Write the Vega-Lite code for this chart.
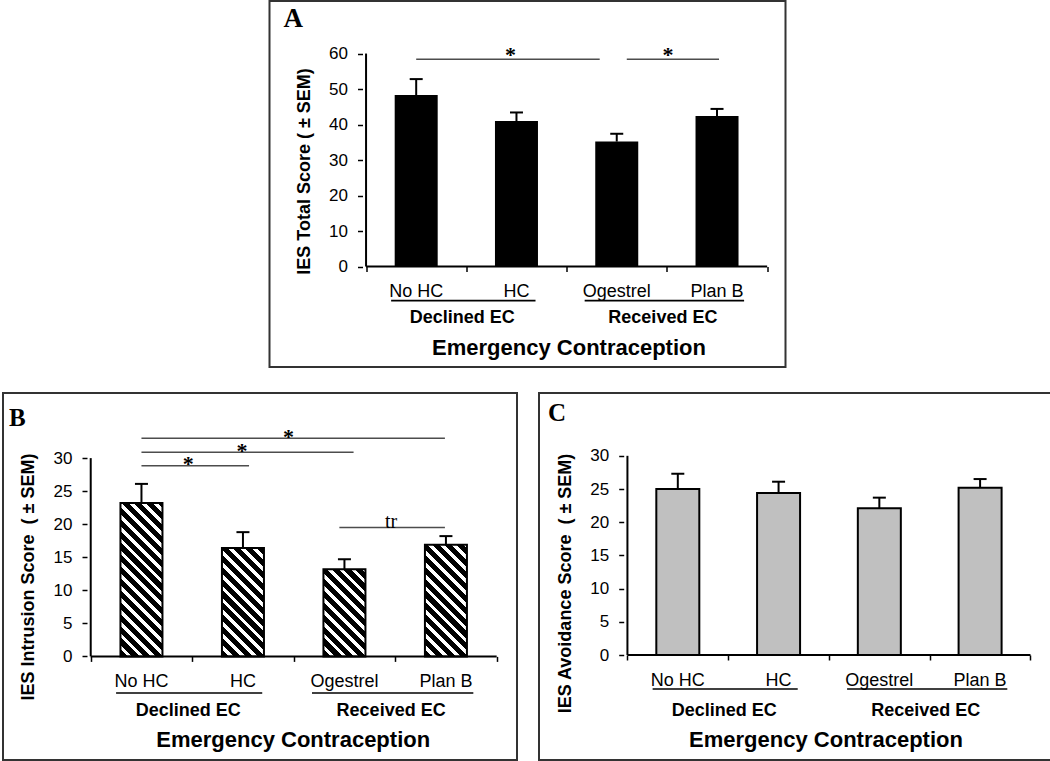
{
  "$schema": "https://vega.github.io/schema/vega-lite/v6.json",
  "background": "white",
  "padding": {"left": 2, "top": 0, "right": 0, "bottom": 0},
  "datasets": {
    "total": [
      {"cat": "No HC", "idx": 0, "group": "Declined EC", "mean": 48.3, "upper": 52.8},
      {"cat": "HC", "idx": 1, "group": "Declined EC", "mean": 41.0, "upper": 43.4},
      {"cat": "Ogestrel", "idx": 2, "group": "Received EC", "mean": 35.2, "upper": 37.4},
      {"cat": "Plan B", "idx": 3, "group": "Received EC", "mean": 42.4, "upper": 44.4}
    ],
    "intrusion": [
      {"cat": "No HC", "idx": 0, "group": "Declined EC", "mean": 23.2, "upper": 26.1},
      {"cat": "HC", "idx": 1, "group": "Declined EC", "mean": 16.4, "upper": 18.8},
      {"cat": "Ogestrel", "idx": 2, "group": "Received EC", "mean": 13.2, "upper": 14.7},
      {"cat": "Plan B", "idx": 3, "group": "Received EC", "mean": 16.9, "upper": 18.2}
    ],
    "avoidance": [
      {"cat": "No HC", "idx": 0, "group": "Declined EC", "mean": 25.0, "upper": 27.3},
      {"cat": "HC", "idx": 1, "group": "Declined EC", "mean": 24.4, "upper": 26.1},
      {"cat": "Ogestrel", "idx": 2, "group": "Received EC", "mean": 22.1, "upper": 23.7},
      {"cat": "Plan B", "idx": 3, "group": "Received EC", "mean": 25.2, "upper": 26.5}
    ],
    "groups": [
      {"group": "Declined EC", "from": -0.25, "to": 1.19, "mid": 0.46},
      {"group": "Received EC", "from": 1.68, "to": 3.27, "mid": 2.46}
    ],
    "sigA": [
      {"from": 0, "to": 1.83, "level": 58.4, "mid": 0.94, "label": "*"},
      {"from": 2.1, "to": 3.02, "level": 58.4, "mid": 2.51, "label": "*"}
    ],
    "sigB": [
      {"from": 0, "to": 2.99, "level": 33.0, "mid": 1.45, "label": "*"},
      {"from": 0, "to": 2.09, "level": 30.9, "mid": 0.99, "label": "*"},
      {"from": 0, "to": 1.06, "level": 28.85, "mid": 0.46, "label": "*"},
      {"from": 1.95, "to": 2.99, "level": 19.5, "mid": 2.46, "label": "tr"}
    ]
  },
  "config": {
    "view": {"stroke": "#333333", "strokeWidth": 2},
    "font": "Liberation Sans",
    "axis": {"domain": false, "grid": false, "tickColor": "black", "tickWidth": 1.5, "tickSize": 5, "labelFont": "Liberation Sans", "labelFontSize": 17, "labelColor": "black", "labelPadding": 10, "titleFont": "Liberation Sans", "titleFontWeight": "bold", "titleColor": "black"},
    "axisX": {"labels": false, "titleFontSize": 22, "titleBaseline": "middle"},
    "axisY": {"titleFontSize": 18},
    "title": {"anchor": "start", "frame": "group", "font": "Liberation Serif", "fontWeight": "bold", "color": "black", "baseline": "alphabetic"}
  },
  "spacing": 24,
  "center": true,
  "vconcat": [
    {
      "width": 516,
      "height": 366,
      "title": {"text": "A", "fontSize": 27, "offset": -31.5, "dx": 14},
      "layer": [
        {
          "data": {"name": "total"},
          "mark": {"type": "bar", "color": "black", "size": 43},
          "encoding": {
            "x": {"field": "idx", "type": "quantitative", "scale": {"domain": [-1.413, 3.633], "nice": false, "zero": false},
                  "axis": {"values": [-0.5, 0.5, 1.5, 2.5, 3.5], "offset": -100.5, "title": "Emergency Contraception", "titleX": 299, "titleY": 81}},
            "y": {"field": "mean", "type": "quantitative", "scale": {"domain": [-28.3, 74.8], "nice": false, "zero": false},
                  "axis": {"values": [0, 10, 20, 30, 40, 50, 60], "offset": -93, "title": "IES Total Score ( ± SEM)", "titleY": 170, "titlePadding": 15}},
            "y2": {"datum": 0}
          }
        },
        {
          "data": {"name": "total"},
          "mark": {"type": "rule", "color": "black", "strokeWidth": 2},
          "encoding": {"x": {"field": "idx", "type": "quantitative"}, "y": {"field": "mean", "type": "quantitative"}, "y2": {"field": "upper"}}
        },
        {
          "data": {"name": "total"},
          "mark": {"type": "tick", "orient": "horizontal", "color": "black", "size": 13, "thickness": 2, "opacity": 1},
          "encoding": {"x": {"field": "idx", "type": "quantitative"}, "y": {"field": "upper", "type": "quantitative"}}
        },
        {
          "data": {"values": [{}]},
          "mark": {"type": "rule", "color": "black", "strokeWidth": 2},
          "encoding": {"x": {"datum": -0.5}, "y": {"datum": 0}, "y2": {"datum": 60}}
        },
        {
          "data": {"values": [{}]},
          "mark": {"type": "rule", "color": "black", "strokeWidth": 2},
          "encoding": {"x": {"datum": -0.5}, "x2": {"datum": 3.5}, "y": {"datum": 0}}
        },
        {
          "data": {"name": "total"},
          "mark": {"type": "text", "fontSize": 18, "baseline": "middle", "color": "black"},
          "encoding": {"x": {"field": "idx", "type": "quantitative"}, "y": {"datum": -7.3}, "text": {"field": "cat"}}
        },
        {
          "data": {"name": "groups"},
          "mark": {"type": "rule", "color": "black", "strokeWidth": 1.6},
          "encoding": {"x": {"field": "from", "type": "quantitative"}, "x2": {"field": "to"}, "y": {"datum": -9.6}}
        },
        {
          "data": {"name": "groups"},
          "mark": {"type": "text", "fontSize": 18, "fontWeight": "bold", "baseline": "middle", "color": "black"},
          "encoding": {"x": {"field": "mid", "type": "quantitative"}, "y": {"datum": -14.4}, "text": {"field": "group"}}
        },
        {
          "data": {"name": "sigA"},
          "mark": {"type": "rule", "color": "#4d4d4d", "strokeWidth": 1.5},
          "encoding": {"x": {"field": "from", "type": "quantitative"}, "x2": {"field": "to"}, "y": {"field": "level", "type": "quantitative"}}
        },
        {
          "data": {"name": "sigA"},
          "mark": {"type": "text", "font": "Liberation Serif", "fontSize": 22, "fontWeight": "bold", "baseline": "alphabetic", "dy": 3, "color": "black"},
          "encoding": {"x": {"field": "mid", "type": "quantitative"}, "y": {"field": "level", "type": "quantitative"}, "text": {"field": "label"}}
        }
      ]
    },
    {
      "spacing": 20,
      "hconcat": [
        {
          "width": 514,
          "height": 367,
          "title": {"text": "B", "fontSize": 25, "offset": -38, "dx": 6},
          "layer": [
            {
              "data": {"name": "intrusion"},
              "transform": [{"filter": {"field": "cat", "equal": "No HC"}}],
              "mark": {"type": "bar", "size": 42, "stroke": "black", "strokeWidth": 2,
                "fill": {"gradient": "linear", "x1": 0, "y1": 1, "x2": 0.3353, "y2": -0.2247, "stops": [
                  {"offset": 0, "color": "#000"},
                  {"offset": 0.0353, "color": "#000"}, {"offset": 0.0353, "color": "#fff"}, {"offset": 0.0588, "color": "#fff"}, {"offset": 0.0588, "color": "#000"},
                  {"offset": 0.0941, "color": "#000"}, {"offset": 0.0941, "color": "#fff"}, {"offset": 0.1176, "color": "#fff"}, {"offset": 0.1176, "color": "#000"},
                  {"offset": 0.1529, "color": "#000"}, {"offset": 0.1529, "color": "#fff"}, {"offset": 0.1765, "color": "#fff"}, {"offset": 0.1765, "color": "#000"},
                  {"offset": 0.2118, "color": "#000"}, {"offset": 0.2118, "color": "#fff"}, {"offset": 0.2353, "color": "#fff"}, {"offset": 0.2353, "color": "#000"},
                  {"offset": 0.2706, "color": "#000"}, {"offset": 0.2706, "color": "#fff"}, {"offset": 0.2941, "color": "#fff"}, {"offset": 0.2941, "color": "#000"},
                  {"offset": 0.3294, "color": "#000"}, {"offset": 0.3294, "color": "#fff"}, {"offset": 0.3529, "color": "#fff"}, {"offset": 0.3529, "color": "#000"},
                  {"offset": 0.3882, "color": "#000"}, {"offset": 0.3882, "color": "#fff"}, {"offset": 0.4118, "color": "#fff"}, {"offset": 0.4118, "color": "#000"},
                  {"offset": 0.4471, "color": "#000"}, {"offset": 0.4471, "color": "#fff"}, {"offset": 0.4706, "color": "#fff"}, {"offset": 0.4706, "color": "#000"},
                  {"offset": 0.5059, "color": "#000"}, {"offset": 0.5059, "color": "#fff"}, {"offset": 0.5294, "color": "#fff"}, {"offset": 0.5294, "color": "#000"},
                  {"offset": 0.5647, "color": "#000"}, {"offset": 0.5647, "color": "#fff"}, {"offset": 0.5882, "color": "#fff"}, {"offset": 0.5882, "color": "#000"},
                  {"offset": 0.6235, "color": "#000"}, {"offset": 0.6235, "color": "#fff"}, {"offset": 0.6471, "color": "#fff"}, {"offset": 0.6471, "color": "#000"},
                  {"offset": 0.6824, "color": "#000"}, {"offset": 0.6824, "color": "#fff"}, {"offset": 0.7059, "color": "#fff"}, {"offset": 0.7059, "color": "#000"},
                  {"offset": 0.7412, "color": "#000"}, {"offset": 0.7412, "color": "#fff"}, {"offset": 0.7647, "color": "#fff"}, {"offset": 0.7647, "color": "#000"},
                  {"offset": 0.8, "color": "#000"}, {"offset": 0.8, "color": "#fff"}, {"offset": 0.8235, "color": "#fff"}, {"offset": 0.8235, "color": "#000"},
                  {"offset": 0.8588, "color": "#000"}, {"offset": 0.8588, "color": "#fff"}, {"offset": 0.8824, "color": "#fff"}, {"offset": 0.8824, "color": "#000"},
                  {"offset": 0.9176, "color": "#000"}, {"offset": 0.9176, "color": "#fff"}, {"offset": 0.9412, "color": "#fff"}, {"offset": 0.9412, "color": "#000"},
                  {"offset": 0.9765, "color": "#000"}, {"offset": 0.9765, "color": "#fff"}, {"offset": 1, "color": "#fff"}
                ]}},
              "encoding": {
                "x": {"field": "idx", "type": "quantitative", "scale": {"domain": [-1.315, 3.651], "nice": false, "zero": false},
                      "axis": {"values": [-0.5, 0.5, 1.5, 2.5, 3.5], "offset": -103.6, "title": "Emergency Contraception", "titleX": 289.7, "titleY": 82.6}},
                "y": {"field": "mean", "type": "quantitative", "scale": {"domain": [-15.67, 39.85], "nice": false, "zero": false},
                      "axis": {"values": [0, 5, 10, 15, 20, 25, 30], "offset": -84, "title": "IES Intrusion Score\u00a0 ( ± SEM)", "titlePadding": 16}},
                "y2": {"datum": 0}
              }
            },
            {
              "data": {"name": "intrusion"},
              "transform": [{"filter": {"field": "cat", "equal": "HC"}}],
              "mark": {"type": "bar", "size": 42, "stroke": "black", "strokeWidth": 2,
                "fill": {"gradient": "linear", "x1": 0, "y1": 1, "x2": 0.48, "y2": -0.2388, "stops": [
                  {"offset": 0, "color": "#000"},
                  {"offset": 0.0462, "color": "#000"}, {"offset": 0.0462, "color": "#fff"}, {"offset": 0.0769, "color": "#fff"}, {"offset": 0.0769, "color": "#000"},
                  {"offset": 0.1231, "color": "#000"}, {"offset": 0.1231, "color": "#fff"}, {"offset": 0.1538, "color": "#fff"}, {"offset": 0.1538, "color": "#000"},
                  {"offset": 0.2, "color": "#000"}, {"offset": 0.2, "color": "#fff"}, {"offset": 0.2308, "color": "#fff"}, {"offset": 0.2308, "color": "#000"},
                  {"offset": 0.2769, "color": "#000"}, {"offset": 0.2769, "color": "#fff"}, {"offset": 0.3077, "color": "#fff"}, {"offset": 0.3077, "color": "#000"},
                  {"offset": 0.3538, "color": "#000"}, {"offset": 0.3538, "color": "#fff"}, {"offset": 0.3846, "color": "#fff"}, {"offset": 0.3846, "color": "#000"},
                  {"offset": 0.4308, "color": "#000"}, {"offset": 0.4308, "color": "#fff"}, {"offset": 0.4615, "color": "#fff"}, {"offset": 0.4615, "color": "#000"},
                  {"offset": 0.5077, "color": "#000"}, {"offset": 0.5077, "color": "#fff"}, {"offset": 0.5385, "color": "#fff"}, {"offset": 0.5385, "color": "#000"},
                  {"offset": 0.5846, "color": "#000"}, {"offset": 0.5846, "color": "#fff"}, {"offset": 0.6154, "color": "#fff"}, {"offset": 0.6154, "color": "#000"},
                  {"offset": 0.6615, "color": "#000"}, {"offset": 0.6615, "color": "#fff"}, {"offset": 0.6923, "color": "#fff"}, {"offset": 0.6923, "color": "#000"},
                  {"offset": 0.7385, "color": "#000"}, {"offset": 0.7385, "color": "#fff"}, {"offset": 0.7692, "color": "#fff"}, {"offset": 0.7692, "color": "#000"},
                  {"offset": 0.8154, "color": "#000"}, {"offset": 0.8154, "color": "#fff"}, {"offset": 0.8462, "color": "#fff"}, {"offset": 0.8462, "color": "#000"},
                  {"offset": 0.8923, "color": "#000"}, {"offset": 0.8923, "color": "#fff"}, {"offset": 0.9231, "color": "#fff"}, {"offset": 0.9231, "color": "#000"},
                  {"offset": 0.9692, "color": "#000"}, {"offset": 0.9692, "color": "#fff"}, {"offset": 1, "color": "#fff"}
                ]}},
              "encoding": {"x": {"field": "idx", "type": "quantitative"}, "y": {"field": "mean", "type": "quantitative"}, "y2": {"datum": 0}}
            },
            {
              "data": {"name": "intrusion"},
              "transform": [{"filter": {"field": "cat", "equal": "Ogestrel"}}],
              "mark": {"type": "bar", "size": 42, "stroke": "black", "strokeWidth": 2,
                "fill": {"gradient": "linear", "x1": 0, "y1": 1, "x2": 0.5848, "y2": -0.2156, "stops": [
                  {"offset": 0, "color": "#000"},
                  {"offset": 0.0545, "color": "#000"}, {"offset": 0.0545, "color": "#fff"}, {"offset": 0.0909, "color": "#fff"}, {"offset": 0.0909, "color": "#000"},
                  {"offset": 0.1455, "color": "#000"}, {"offset": 0.1455, "color": "#fff"}, {"offset": 0.1818, "color": "#fff"}, {"offset": 0.1818, "color": "#000"},
                  {"offset": 0.2364, "color": "#000"}, {"offset": 0.2364, "color": "#fff"}, {"offset": 0.2727, "color": "#fff"}, {"offset": 0.2727, "color": "#000"},
                  {"offset": 0.3273, "color": "#000"}, {"offset": 0.3273, "color": "#fff"}, {"offset": 0.3636, "color": "#fff"}, {"offset": 0.3636, "color": "#000"},
                  {"offset": 0.4182, "color": "#000"}, {"offset": 0.4182, "color": "#fff"}, {"offset": 0.4545, "color": "#fff"}, {"offset": 0.4545, "color": "#000"},
                  {"offset": 0.5091, "color": "#000"}, {"offset": 0.5091, "color": "#fff"}, {"offset": 0.5455, "color": "#fff"}, {"offset": 0.5455, "color": "#000"},
                  {"offset": 0.6, "color": "#000"}, {"offset": 0.6, "color": "#fff"}, {"offset": 0.6364, "color": "#fff"}, {"offset": 0.6364, "color": "#000"},
                  {"offset": 0.6909, "color": "#000"}, {"offset": 0.6909, "color": "#fff"}, {"offset": 0.7273, "color": "#fff"}, {"offset": 0.7273, "color": "#000"},
                  {"offset": 0.7818, "color": "#000"}, {"offset": 0.7818, "color": "#fff"}, {"offset": 0.8182, "color": "#fff"}, {"offset": 0.8182, "color": "#000"},
                  {"offset": 0.8727, "color": "#000"}, {"offset": 0.8727, "color": "#fff"}, {"offset": 0.9091, "color": "#fff"}, {"offset": 0.9091, "color": "#000"},
                  {"offset": 0.9636, "color": "#000"}, {"offset": 0.9636, "color": "#fff"}, {"offset": 1, "color": "#fff"}
                ]}},
              "encoding": {"x": {"field": "idx", "type": "quantitative"}, "y": {"field": "mean", "type": "quantitative"}, "y2": {"datum": 0}}
            },
            {
              "data": {"name": "intrusion"},
              "transform": [{"filter": {"field": "cat", "equal": "Plan B"}}],
              "mark": {"type": "bar", "size": 42, "stroke": "black", "strokeWidth": 2,
                "fill": {"gradient": "linear", "x1": 0, "y1": 1, "x2": 0.4555, "y2": -0.2114, "stops": [
                  {"offset": 0, "color": "#000"},
                  {"offset": 0.0462, "color": "#000"}, {"offset": 0.0462, "color": "#fff"}, {"offset": 0.0769, "color": "#fff"}, {"offset": 0.0769, "color": "#000"},
                  {"offset": 0.1231, "color": "#000"}, {"offset": 0.1231, "color": "#fff"}, {"offset": 0.1538, "color": "#fff"}, {"offset": 0.1538, "color": "#000"},
                  {"offset": 0.2, "color": "#000"}, {"offset": 0.2, "color": "#fff"}, {"offset": 0.2308, "color": "#fff"}, {"offset": 0.2308, "color": "#000"},
                  {"offset": 0.2769, "color": "#000"}, {"offset": 0.2769, "color": "#fff"}, {"offset": 0.3077, "color": "#fff"}, {"offset": 0.3077, "color": "#000"},
                  {"offset": 0.3538, "color": "#000"}, {"offset": 0.3538, "color": "#fff"}, {"offset": 0.3846, "color": "#fff"}, {"offset": 0.3846, "color": "#000"},
                  {"offset": 0.4308, "color": "#000"}, {"offset": 0.4308, "color": "#fff"}, {"offset": 0.4615, "color": "#fff"}, {"offset": 0.4615, "color": "#000"},
                  {"offset": 0.5077, "color": "#000"}, {"offset": 0.5077, "color": "#fff"}, {"offset": 0.5385, "color": "#fff"}, {"offset": 0.5385, "color": "#000"},
                  {"offset": 0.5846, "color": "#000"}, {"offset": 0.5846, "color": "#fff"}, {"offset": 0.6154, "color": "#fff"}, {"offset": 0.6154, "color": "#000"},
                  {"offset": 0.6615, "color": "#000"}, {"offset": 0.6615, "color": "#fff"}, {"offset": 0.6923, "color": "#fff"}, {"offset": 0.6923, "color": "#000"},
                  {"offset": 0.7385, "color": "#000"}, {"offset": 0.7385, "color": "#fff"}, {"offset": 0.7692, "color": "#fff"}, {"offset": 0.7692, "color": "#000"},
                  {"offset": 0.8154, "color": "#000"}, {"offset": 0.8154, "color": "#fff"}, {"offset": 0.8462, "color": "#fff"}, {"offset": 0.8462, "color": "#000"},
                  {"offset": 0.8923, "color": "#000"}, {"offset": 0.8923, "color": "#fff"}, {"offset": 0.9231, "color": "#fff"}, {"offset": 0.9231, "color": "#000"},
                  {"offset": 0.9692, "color": "#000"}, {"offset": 0.9692, "color": "#fff"}, {"offset": 1, "color": "#fff"}
                ]}},
              "encoding": {"x": {"field": "idx", "type": "quantitative"}, "y": {"field": "mean", "type": "quantitative"}, "y2": {"datum": 0}}
            },
            {
              "data": {"name": "intrusion"},
              "mark": {"type": "rule", "color": "black", "strokeWidth": 2},
              "encoding": {"x": {"field": "idx", "type": "quantitative"}, "y": {"field": "mean", "type": "quantitative"}, "y2": {"field": "upper"}}
            },
            {
              "data": {"name": "intrusion"},
              "mark": {"type": "tick", "orient": "horizontal", "color": "black", "size": 13, "thickness": 2, "opacity": 1},
              "encoding": {"x": {"field": "idx", "type": "quantitative"}, "y": {"field": "upper", "type": "quantitative"}}
            },
            {
              "data": {"values": [{}]},
              "mark": {"type": "rule", "color": "black", "strokeWidth": 2},
              "encoding": {"x": {"datum": -0.5}, "y": {"datum": 0}, "y2": {"datum": 30}}
            },
            {
              "data": {"values": [{}]},
              "mark": {"type": "rule", "color": "black", "strokeWidth": 2},
              "encoding": {"x": {"datum": -0.5}, "x2": {"datum": 3.5}, "y": {"datum": 0}}
            },
            {
              "data": {"name": "intrusion"},
              "mark": {"type": "text", "fontSize": 18, "baseline": "middle", "color": "black"},
              "encoding": {"x": {"field": "idx", "type": "quantitative"}, "y": {"datum": -3.93}, "text": {"field": "cat"}}
            },
            {
              "data": {"name": "groups"},
              "mark": {"type": "rule", "color": "black", "strokeWidth": 1.6},
              "encoding": {"x": {"field": "from", "type": "quantitative"}, "x2": {"field": "to"}, "y": {"datum": -5.54}}
            },
            {
              "data": {"name": "groups"},
              "mark": {"type": "text", "fontSize": 18, "fontWeight": "bold", "baseline": "middle", "color": "black"},
              "encoding": {"x": {"field": "mid", "type": "quantitative"}, "y": {"datum": -8.21}, "text": {"field": "group"}}
            },
            {
              "data": {"name": "sigB"},
              "mark": {"type": "rule", "color": "#4d4d4d", "strokeWidth": 1.5},
              "encoding": {"x": {"field": "from", "type": "quantitative"}, "x2": {"field": "to"}, "y": {"field": "level", "type": "quantitative"}}
            },
            {
              "data": {"name": "sigB"},
              "transform": [{"filter": {"field": "label", "equal": "*"}}],
              "mark": {"type": "text", "font": "Liberation Serif", "fontSize": 22, "fontWeight": "bold", "baseline": "alphabetic", "dy": 5.5, "color": "black"},
              "encoding": {"x": {"field": "mid", "type": "quantitative"}, "y": {"field": "level", "type": "quantitative"}, "text": {"field": "label"}}
            },
            {
              "data": {"name": "sigB"},
              "transform": [{"filter": {"field": "label", "equal": "tr"}}],
              "mark": {"type": "text", "font": "Liberation Serif", "fontSize": 20, "baseline": "alphabetic", "dy": 0, "color": "black"},
              "encoding": {"x": {"field": "mid", "type": "quantitative"}, "y": {"field": "level", "type": "quantitative"}, "text": {"field": "label"}}
            }
          ]
        },
        {
          "width": 513,
          "height": 367,
          "title": {"text": "C", "fontSize": 25, "offset": -33, "dx": 9},
          "layer": [
            {
              "data": {"name": "avoidance"},
              "mark": {"type": "bar", "size": 43, "fill": "#c0c0c0", "stroke": "black", "strokeWidth": 2},
              "encoding": {
                "x": {"field": "idx", "type": "quantitative", "scale": {"domain": [-1.328, 3.664], "nice": false, "zero": false},
                      "axis": {"values": [-0.5, 0.5, 1.5, 2.5, 3.5], "offset": -105, "title": "Emergency Contraception", "titleX": 286.5, "titleY": 84}},
                "y": {"field": "mean", "type": "quantitative", "scale": {"domain": [-15.81, 39.46], "nice": false, "zero": false},
                      "axis": {"values": [0, 5, 10, 15, 20, 25, 30], "offset": -84.7, "title": "IES Avoidance Score\u00a0 ( ± SEM)", "titleY": 190, "titlePadding": 15}},
                "y2": {"datum": 0}
              }
            },
            {
              "data": {"name": "avoidance"},
              "mark": {"type": "rule", "color": "black", "strokeWidth": 2},
              "encoding": {"x": {"field": "idx", "type": "quantitative"}, "y": {"field": "mean", "type": "quantitative"}, "y2": {"field": "upper"}}
            },
            {
              "data": {"name": "avoidance"},
              "mark": {"type": "tick", "orient": "horizontal", "color": "black", "size": 13, "thickness": 2, "opacity": 1},
              "encoding": {"x": {"field": "idx", "type": "quantitative"}, "y": {"field": "upper", "type": "quantitative"}}
            },
            {
              "data": {"values": [{}]},
              "mark": {"type": "rule", "color": "black", "strokeWidth": 2},
              "encoding": {"x": {"datum": -0.5}, "y": {"datum": 0}, "y2": {"datum": 30}}
            },
            {
              "data": {"values": [{}]},
              "mark": {"type": "rule", "color": "black", "strokeWidth": 2},
              "encoding": {"x": {"datum": -0.5}, "x2": {"datum": 3.5}, "y": {"datum": 0}}
            },
            {
              "data": {"name": "avoidance"},
              "mark": {"type": "text", "fontSize": 18, "baseline": "middle", "color": "black"},
              "encoding": {"x": {"field": "idx", "type": "quantitative"}, "y": {"datum": -3.87}, "text": {"field": "cat"}}
            },
            {
              "data": {"name": "groups"},
              "mark": {"type": "rule", "color": "black", "strokeWidth": 1.6},
              "encoding": {"x": {"field": "from", "type": "quantitative"}, "x2": {"field": "to"}, "y": {"datum": -5.12}}
            },
            {
              "data": {"name": "groups"},
              "mark": {"type": "text", "fontSize": 18, "fontWeight": "bold", "baseline": "middle", "color": "black"},
              "encoding": {"x": {"field": "mid", "type": "quantitative"}, "y": {"datum": -8.39}, "text": {"field": "group"}}
            }
          ]
        }
      ]
    }
  ]
}
